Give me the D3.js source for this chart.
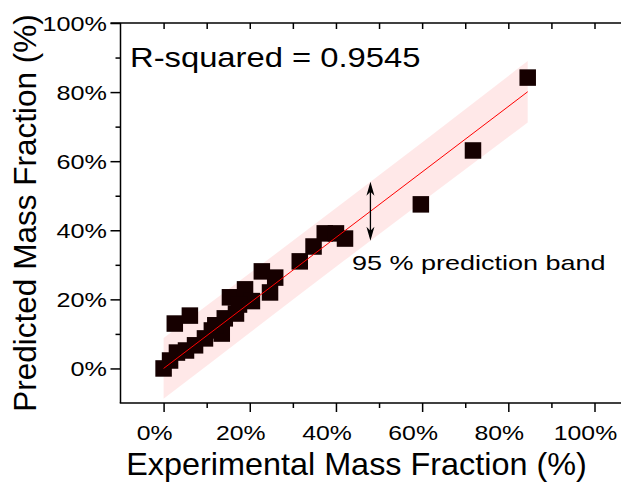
<!DOCTYPE html>
<html><head><meta charset="utf-8">
<script src="https://cdn.jsdelivr.net/npm/d3@7"></script>
<style>body{margin:0;background:#fff}svg{display:block}</style>
</head><body><svg id="c" width="621" height="486"></svg>
<script>
// ---- data ----
const expX  = [0, 1.5, 3.1, 5.2, 2.6, 6.1, 7.3, 9.6, 11.2, 13.5, 14.2, 16.8, 15.4, 18.9, 22.8, 25.9, 24.7, 20.5, 17.5, 12.0, 31.6, 34.8, 37.4, 40.0, 42.1, 59.7, 71.8, 84.5];
const predY = [0, 2.3, 4.6, 5.2, 13.0, 15.3, 6.7, 8.7, 11.0, 10.1, 14.5, 15.9, 20.6, 22.9, 28.1, 26.3, 22.0, 19.5, 18.5, 12.5, 31.0, 35.3, 39.1, 39.1, 37.6, 47.5, 63.1, 84.2];
const fitX = [0, 84.5];
const fitY = [0, 80.1];
const bandX = [0, 42, 84.5];
const bandUpper = [8.8, 48.3, 89.0];
const bandLower = [-8.8, 31.3, 71.2];
const xTickVals = [0, 20, 40, 60, 80, 100];
const yTickVals = [0, 20, 40, 60, 80, 100];
const minorTickVals = [10, 30, 50, 70, 90];
const arrowX = 48;
const rSquaredLabel = "R-squared = 0.9545";
const bandLabel = "95 % prediction band";
const xTitle = "Experimental Mass Fraction (%)";
const yTitle = "Predicted Mass Fraction (%)";

// ---- layout ----
const svg = d3.select("#c");
const x = d3.scaleLinear().domain([-10, 100]).range([120.5, 594.5]);
const y = d3.scaleLinear().domain([-10, 100]).range([403, 23]);
const FONT = "'Liberation Sans', Arial, sans-serif";
const pct = d => d + "%";

// band
const bandData = bandX.map((v, i) => ({x: v, lo: bandLower[i], hi: bandUpper[i]}));
svg.append("path").datum(bandData)
  .attr("d", d3.area().x(d => x(d.x)).y0(d => y(d.lo)).y1(d => y(d.hi)).curve(d3.curveMonotoneX))
  .attr("fill", "#ff0000").attr("fill-opacity", 0.09);

// points
const S = 16.5;
svg.append("g").selectAll("rect").data(expX.map((v, i) => [v, predY[i]])).join("rect")
  .attr("x", d => x(d[0]) - S / 2).attr("y", d => y(d[1]) - S / 2)
  .attr("width", S).attr("height", S).attr("fill", "#160000");

// fit line
svg.append("path").datum(fitX.map((v, i) => [v, fitY[i]]))
  .attr("d", d3.line().x(d => x(d[0])).y(d => y(d[1])))
  .attr("stroke", "#ff0000").attr("stroke-width", 1).attr("fill", "none");

// axes
function styleAxis(g) {
  g.select(".domain").remove();
  g.selectAll(".tick line").attr("stroke", "#000").attr("stroke-width", 1.5);
  g.selectAll("text").remove();
}
const xEnd = 621;
svg.append("g").attr("transform", `translate(0,${y(-10)})`)
  .call(d3.axisBottom(x).tickValues(xTickVals).tickSize(9)).call(styleAxis);
svg.append("g").attr("transform", `translate(0,${y(-10)})`)
  .call(d3.axisBottom(x).tickValues(minorTickVals).tickSize(5)).call(styleAxis);
svg.append("g").attr("transform", `translate(0,${y(100)})`)
  .call(d3.axisTop(x).tickValues(xTickVals.concat(minorTickVals)).tickSize(-6)).call(styleAxis);
svg.append("g").attr("transform", `translate(${x(-10)},0)`)
  .call(d3.axisLeft(y).tickValues(yTickVals).tickSize(10)).call(styleAxis);
svg.append("g").attr("transform", `translate(${x(-10)},0)`)
  .call(d3.axisLeft(y).tickValues(minorTickVals).tickSize(5)).call(styleAxis);
// frame lines
const frame = svg.append("g").attr("stroke", "#000").attr("stroke-width", 1.5);
frame.append("line").attr("x1", x(-10) - 0.75).attr("x2", xEnd).attr("y1", y(-10)).attr("y2", y(-10));
frame.append("line").attr("x1", x(-10) - 10).attr("x2", xEnd).attr("y1", y(100)).attr("y2", y(100));
frame.append("line").attr("x1", x(-10)).attr("x2", x(-10)).attr("y1", y(100)).attr("y2", y(-10));

// stretched text helper
function label(tx, ty, str, size, sx, anchor, rot) {
  const g = svg.append("g").attr("transform", `translate(${tx},${ty})` + (rot ? ` rotate(${rot})` : "") + ` scale(${sx},1)`);
  return g.append("text").text(str).attr("font-family", FONT).attr("font-size", size)
    .attr("text-anchor", anchor || "start").attr("fill", "#000");
}
// tick labels
xTickVals.forEach(v => label(x(v) - 9, 440, pct(v), 20, 1.24, "middle"));
yTickVals.forEach(v => label(107, y(v) + 7.5, pct(v), 20, 1.26, "end"));

// titles
label(356.5, 475, xTitle, 31, 1.045, "middle");
label(36, y(45), yTitle, 31.5, 1.0, "middle", -90);

// R-squared
label(130, 67, rSquaredLabel, 28, 1.17, "start");

// arrow
const t = (arrowX - bandX[1]) / (bandX[2] - bandX[1]);
const yTop = y(d3.interpolateNumber(bandUpper[1], bandUpper[2])(t));
const yBot = y(d3.interpolateNumber(bandLower[1], bandLower[2])(t));
const ax = x(arrowX);
svg.append("line").attr("x1", ax).attr("x2", ax).attr("y1", yTop + 4).attr("y2", yBot - 4).attr("stroke", "#000").attr("stroke-width", 1.3);
svg.append("path").attr("d", `M${ax},${yTop} L${ax - 4},${yTop + 14} L${ax},${yTop + 10} L${ax + 4},${yTop + 14} Z`).attr("fill", "#000");
svg.append("path").attr("d", `M${ax},${yBot} L${ax - 4},${yBot - 14} L${ax},${yBot - 10} L${ax + 4},${yBot - 14} Z`).attr("fill", "#000");

// band label
label(352, 270, bandLabel, 20, 1.35, "start");
</script></body></html>
